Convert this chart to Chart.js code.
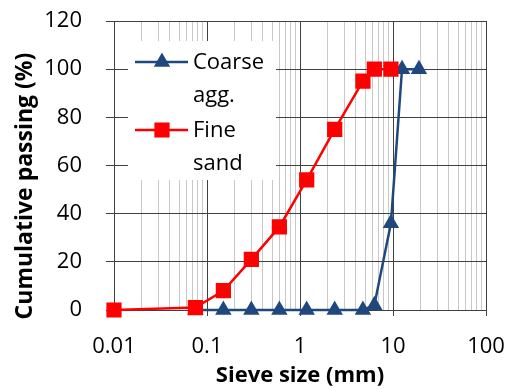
<!DOCTYPE html>
<html>
<head>
<meta charset="utf-8">
<script src="https://cdn.jsdelivr.net/npm/chart.js@4/dist/chart.umd.min.js"></script>
<style>
  html, body { margin: 0; padding: 0; background: #fff; }
  #wrap { width: 507px; height: 389px; }
</style>
</head>
<body>
<div id="wrap"><canvas id="myChart"></canvas></div>
<script>
// sieve sizes (mm) and cumulative passing (%)
let sieveCoarse = [0.075, 0.15, 0.3, 0.6, 1.18, 2.36, 4.75, 6.3, 9.5, 12.5, 19];
let passCoarse = [0, 0, 0, 0, 0, 0, 0, 2, 36, 100, 100];
let sieveFine = [0.01, 0.075, 0.15, 0.3, 0.6, 1.18, 2.36, 4.75, 6.3, 9.5];
let passFine = [0, 1, 8, 21, 34.5, 54, 75, 95, 100, 100];

let xDecades = [0.01, 0.1, 1, 10, 100];
let yMin = 0, yMax = 120, yStep = 20;

let coarseColor = "#1F497D";
let fineColor = "#FF0000";
let majorGrid = "#404040";
let minorGrid = "#C8C8C8";
let font = "'Open Sans', 'DejaVu Sans', sans-serif";

let toPoints = (xs, ys) => xs.map((x, i) => ({ x: x, y: ys[i] }));

let isDecade = v => xDecades.some(d => Math.abs(v - d) < d * 1e-6);

// minor ticks 1..9 within each decade
let logTicks = [];
xDecades.forEach((d, i) => {
  if (i == xDecades.length - 1) {
    logTicks.push(d);
  } else {
    for (let k = 1; k <= 9; k++) logTicks.push(+(k * d).toPrecision(6));
  }
});

let legendBox = {
  id: "legendBox",
  beforeDatasetsDraw(chart) {
    let ctx = chart.ctx;
    ctx.save();
    ctx.fillStyle = "#fff";
    ctx.fillRect(128, 41, 148, 139);

    let rows = [
      { color: coarseColor, style: "triangle", radius: 7, y: 62, text: ["Coarse", "agg."] },
      { color: fineColor, style: "rect", radius: 9, y: 130, text: ["Fine", "sand"] }
    ];
    rows.forEach(r => {
      ctx.strokeStyle = r.color;
      ctx.lineWidth = 2.5;
      ctx.beginPath();
      ctx.moveTo(135, r.y);
      ctx.lineTo(188, r.y);
      ctx.stroke();
      ctx.fillStyle = r.color;
      Chart.helpers.drawPoint(ctx, { pointStyle: r.style, radius: r.radius, rotation: 0, borderWidth: 1 }, 162, r.y);
      ctx.fillStyle = "#000";
      ctx.font = "22px " + font;
      ctx.textBaseline = "middle";
      ctx.textAlign = "left";
      r.text.forEach((t, j) => ctx.fillText(t, 193, r.y + 1 + j * 33));
    });
    ctx.restore();
  },
  afterDraw(chart) {
    let ctx = chart.ctx;
    ctx.save();
    ctx.translate(25, 186);
    ctx.rotate(-Math.PI / 2);
    ctx.font = "bold 23px " + font;
    ctx.fillStyle = "#000";
    ctx.textAlign = "center";
    ctx.textBaseline = "middle";
    ctx.fillText("Cumulative passing (%)", 0, 0);
    ctx.restore();
  }
};

let ctx = document.getElementById("myChart").getContext("2d");
let myChart = new Chart(ctx, {
  type: "line",
  data: {
    datasets: [
      {
        label: "Fine sand",
        data: toPoints(sieveFine, passFine),
        borderColor: fineColor,
        backgroundColor: fineColor,
        borderWidth: 2.5,
        pointStyle: "rect",
        pointRadius: 9,
        pointHoverRadius: 9,
        fill: false,
        clip: false,
        order: 0
      },
      {
        label: "Coarse agg.",
        data: toPoints(sieveCoarse, passCoarse),
        borderColor: coarseColor,
        backgroundColor: coarseColor,
        borderWidth: 2.5,
        pointStyle: "triangle",
        pointRadius: 7,
        pointHoverRadius: 7,
        fill: false,
        clip: false,
        order: 1
      }
    ]
  },
  options: {
    responsive: true,
    maintainAspectRatio: false,
    animation: false,
    layout: { autoPadding: false, padding: { top: 21, right: 21, bottom: 0, left: 0 } },
    plugins: {
      legend: { display: false },
      tooltip: { enabled: false }
    },
    scales: {
      x: {
        type: "logarithmic",
        min: xDecades[0],
        max: xDecades[xDecades.length - 1],
        afterBuildTicks: s => { s.ticks = logTicks.map(v => ({ value: v })); },
        afterFit: s => {
          s.height = 79;
          s.paddingLeft = 0;
          s.paddingRight = 0;
        },
        border: { display: true, color: majorGrid, width: 1 },
        grid: {
          color: c => (c.tick && isDecade(c.tick.value) ? majorGrid : minorGrid),
          lineWidth: 1,
          tickLength: 6,
          tickColor: c => (c.tick && isDecade(c.tick.value) ? majorGrid : "rgba(0,0,0,0)")
        },
        ticks: {
          autoSkip: false,
          maxRotation: 0,
          padding: 18,
          color: "#000",
          font: { family: font, size: 22 },
          callback: v => (isDecade(v) ? String(v) : "")
        },
        title: {
          display: true,
          text: "Sieve size (mm)",
          color: "#000",
          font: { family: font, size: 22, weight: "bold" },
          padding: { top: 0, bottom: 0 }
        }
      },
      y: {
        min: yMin,
        max: yMax,
        afterFit: s => {
          s.width = 114;
          s.paddingTop = 0;
          s.paddingBottom = 0;
        },
        border: { display: true, color: majorGrid, width: 1 },
        grid: { color: majorGrid, lineWidth: 1, tickLength: 8, tickColor: majorGrid },
        ticks: {
          stepSize: yStep,
          padding: 24,
          color: "#000",
          font: { family: font, size: 22 }
        }
      }
    }
  },
  plugins: [legendBox]
});
</script>
</body>
</html>
